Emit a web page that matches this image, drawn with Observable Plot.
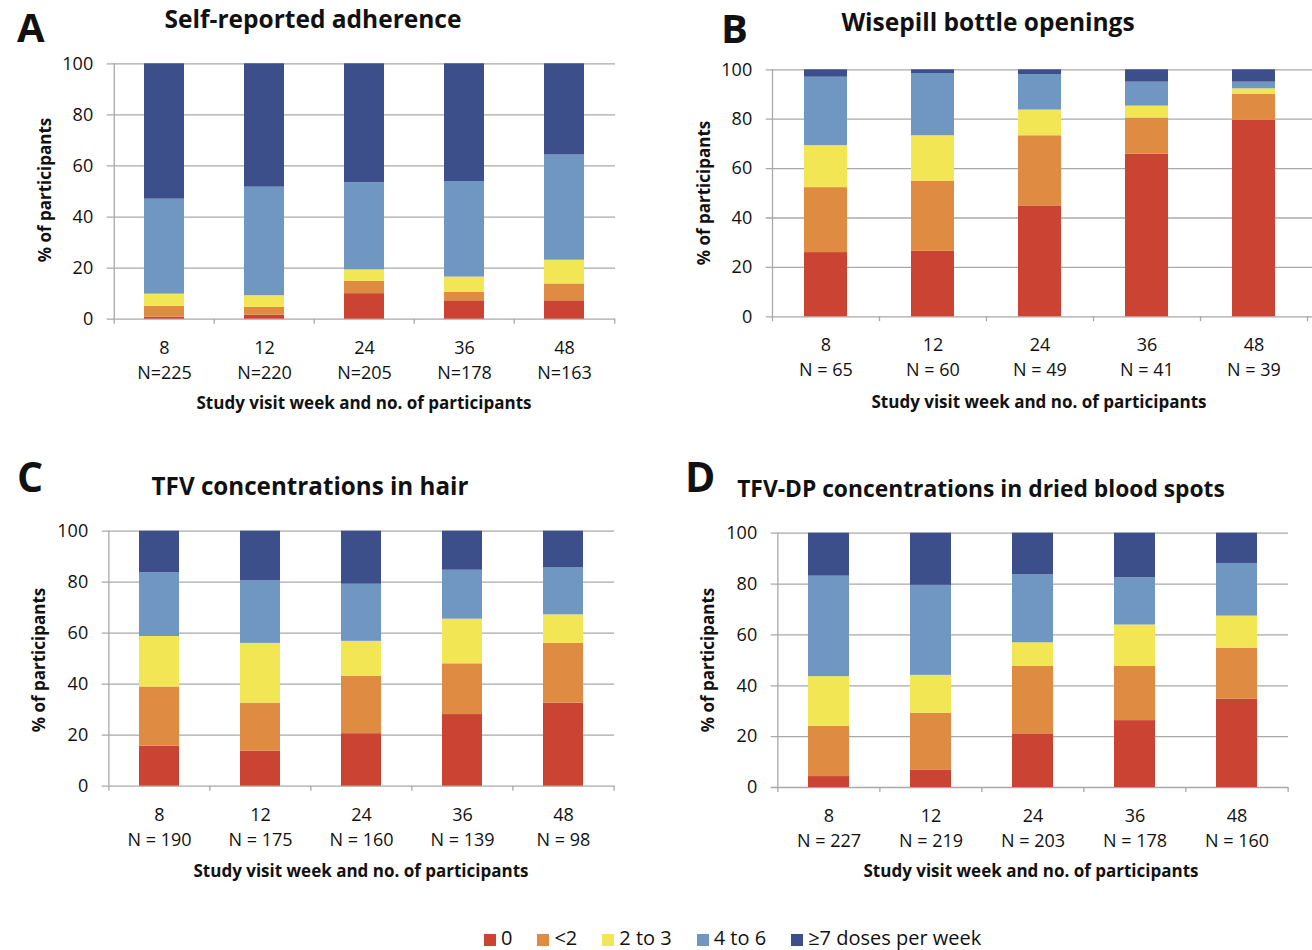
<!DOCTYPE html>
<html><head><meta charset="utf-8">
<script src="https://cdn.jsdelivr.net/npm/d3@7"></script>
<script src="https://cdn.jsdelivr.net/npm/@observablehq/plot@0.6"></script>
<style>
body{margin:0;background:#fff;}
#root{position:relative;width:1312px;height:950px;overflow:hidden;font-family:"Open Sans",sans-serif;color:#111;background:#fff;}
.t{position:absolute;white-space:nowrap;line-height:1;}
#root svg{position:absolute;}
.legend{position:absolute;left:484px;top:926px;display:flex;align-items:center;gap:25px;font-size:20px;line-height:24px;}
.legend span.sw{display:inline-block;width:12px;height:12px;margin-right:5px;vertical-align:-1px;}
</style></head><body><div id="root"></div>
<script>
const weeks = ["8","12","24","36","48"];
const categories = ["0","<2","2 to 3","4 to 6","≥7 doses per week"];
const colors = ["#cb4433","#df8c42","#f2e655","#7097c1","#3d4f8b"];
const yTicks = [0,20,40,60,80,100];

// A: Self-reported adherence
const nSelf = [225,220,205,178,163];
const selfZero  = [0.8, 1.6, 10.0, 7.2, 7.2];
const selfLt2   = [4.2, 3.0, 4.8, 3.3, 6.6];
const self2to3  = [4.8, 4.6, 4.5, 6.0, 9.3];
const self4to6  = [37.2, 42.5, 34.1, 37.4, 41.2];
const selfGe7   = [53.0, 48.3, 46.6, 46.1, 35.7];

// B: Wisepill bottle openings
const nWise = [65,60,49,41,39];
const wiseZero  = [26.0, 26.5, 44.9, 65.8, 79.5];
const wiseLt2   = [26.3, 28.4, 28.4, 14.7, 10.5];
const wise2to3  = [17.0, 18.4, 10.4, 4.8, 2.3];
const wise4to6  = [27.7, 25.2, 14.4, 9.7, 2.7];
const wiseGe7   = [3.0, 1.5, 1.9, 5.0, 5.0];

// C: TFV concentrations in hair
const nHair = [190,175,160,139,98];
const hairZero  = [15.7, 13.7, 20.6, 28.1, 32.6];
const hairLt2   = [23.2, 18.9, 22.5, 19.9, 23.4];
const hair2to3  = [19.8, 23.4, 13.7, 17.5, 11.2];
const hair4to6  = [25.0, 24.5, 22.4, 19.2, 18.4];
const hairGe7   = [16.3, 19.5, 20.8, 15.3, 14.4];

// D: TFV-DP concentrations in dried blood spots
const nDbs = [227,219,203,178,160];
const dbsZero   = [4.3, 6.9, 21.1, 26.3, 34.8];
const dbsLt2    = [19.8, 22.3, 26.5, 21.3, 20.0];
const dbs2to3   = [19.5, 14.9, 9.3, 16.3, 12.6];
const dbs4to6   = [39.5, 35.4, 26.7, 18.6, 20.7];
const dbsGe7    = [16.9, 20.5, 16.4, 17.5, 11.9];

function toRows(series) {
  const rows = [];
  weeks.forEach((w, i) => {
    categories.forEach((c, k) => rows.push({week: w, category: c, value: series[k][i]}));
  });
  return rows;
}

const root = document.getElementById("root");
const grid = "#a8a8a8";

function panel(cfg) {
  const {series, ns, nPrefix, left, top, width, height, x0, x1, y100, y0, extRight = 0} = cfg;
  const step = (x1 - x0) / weeks.length;
  const rows = toRows(series);
  const svg = Plot.plot({
    width, height,
    marginLeft: x0 - left,
    marginRight: left + width - x1,
    marginTop: y100 - top,
    marginBottom: top + height - y0,
    style: {fontFamily: "Open Sans", fontSize: "18px", color: "#111", background: "transparent", overflow: "visible"},
    x: {domain: weeks, paddingInner: 0.6, paddingOuter: 0.3, axis: null, label: null},
    y: {domain: [0, 100], axis: null, label: null},
    color: {domain: categories, range: colors},
    marks: [
      Plot.ruleY(yTicks, {stroke: grid, strokeWidth: 1.3, insetLeft: -6, insetRight: -extRight}),
      Plot.barY(rows, {x: "week", y: "value", fill: "category"}),
      Plot.ruleX(weeks, {x: d => d, dx: -step / 2, y1: 0, y2: -2, stroke: grid, strokeWidth: 1.3}),
      Plot.ruleX([weeks[weeks.length - 1]], {x: d => d, dx: step / 2, y1: 0, y2: -2, stroke: grid, strokeWidth: 1.3}),
      Plot.ruleX([weeks[0]], {x: d => d, dx: -step / 2, y1: 0, y2: 100, stroke: grid, strokeWidth: 1.3}),
      Plot.axisX({label: null, tickSize: 0, tickPadding: 17, fontSize: 18, lineHeight: 1.38,
        tickFormat: d => `${d}\n${nPrefix}${ns[weeks.indexOf(d)]}`}),
      Plot.axisY({label: null, ticks: yTicks, tickSize: 0, tickPadding: 20, fontSize: 18})
    ]
  });
  svg.style.left = left + "px";
  svg.style.top = top + "px";
  root.appendChild(svg);
}

function txt(s, {x, base, size, weight = 400, anchor = "middle"}) {
  const d = document.createElement("div");
  d.className = "t";
  d.textContent = s;
  d.style.fontSize = size + "px";
  d.style.fontWeight = weight;
  d.style.left = x + "px";
  d.style.top = (base - 0.888 * size) + "px";
  if (anchor === "middle") d.style.transform = "translateX(-50%)";
  root.appendChild(d);
}
function vtxt(s, {x, y, size, weight = 700}) {
  const d = document.createElement("div");
  d.className = "t";
  d.textContent = s;
  d.style.fontSize = size + "px";
  d.style.fontWeight = weight;
  d.style.left = x + "px";
  d.style.top = y + "px";
  d.style.transform = "translate(-50%,-50%) rotate(-90deg)";
  root.appendChild(d);
}

panel({series: [selfZero, selfLt2, self2to3, self4to6, selfGe7], ns: nSelf, nPrefix: "N=",
  left: 0, top: 0, width: 650, height: 440, x0: 112.7, x1: 615, y100: 63.3, y0: 318.7});
panel({series: [wiseZero, wiseLt2, wise2to3, wise4to6, wiseGe7], ns: nWise, nPrefix: "N = ",
  left: 656, top: 0, width: 656, height: 440, x0: 771.7, x1: 1306.7, y100: 69.3, y0: 316.3, extRight: 6});
panel({series: [hairZero, hairLt2, hair2to3, hair4to6, hairGe7], ns: nHair, nPrefix: "N = ",
  left: 0, top: 470, width: 650, height: 440, x0: 107.7, x1: 614, y100: 530.7, y0: 785.7});
panel({series: [dbsZero, dbsLt2, dbs2to3, dbs4to6, dbsGe7], ns: nDbs, nPrefix: "N = ",
  left: 656, top: 470, width: 656, height: 440, x0: 776.7, x1: 1288, y100: 532.7, y0: 787});

// panel letters
txt("A", {x: 17, base: 43, size: 40, weight: 700, anchor: "start"});
txt("B", {x: 721, base: 44, size: 40, weight: 700, anchor: "start"});
txt("C", {x: 17, base: 492, size: 41, weight: 700, anchor: "start"});
txt("D", {x: 685, base: 492, size: 41, weight: 700, anchor: "start"});

// titles
txt("Self-reported adherence", {x: 313, base: 29, size: 24.5, weight: 700});
txt("Wisepill bottle openings", {x: 988, base: 32, size: 24.5, weight: 700});
txt("TFV concentrations in hair", {x: 310, base: 495, size: 24.2, weight: 700});
txt("TFV-DP concentrations in dried blood spots", {x: 981, base: 498, size: 22.8, weight: 700});

// y-axis titles
vtxt("% of participants", {x: 44, y: 190, size: 17});
vtxt("% of participants", {x: 703, y: 193, size: 17});
vtxt("% of participants", {x: 38, y: 660, size: 17});
vtxt("% of participants", {x: 707, y: 660, size: 17});

// x-axis titles
const xTitle = "Study visit week and no. of participants";
txt(xTitle, {x: 364, base: 409, size: 17, weight: 700});
txt(xTitle, {x: 1039, base: 408, size: 17, weight: 700});
txt(xTitle, {x: 361, base: 877, size: 17, weight: 700});
txt(xTitle, {x: 1031, base: 877, size: 17, weight: 700});

// legend
const leg = document.createElement("div");
leg.className = "legend";
categories.forEach((c, k) => {
  const item = document.createElement("div");
  const sw = document.createElement("span");
  sw.className = "sw";
  sw.style.background = colors[k];
  item.appendChild(sw);
  item.appendChild(document.createTextNode(c));
  leg.appendChild(item);
});
root.appendChild(leg);
</script></body></html>
